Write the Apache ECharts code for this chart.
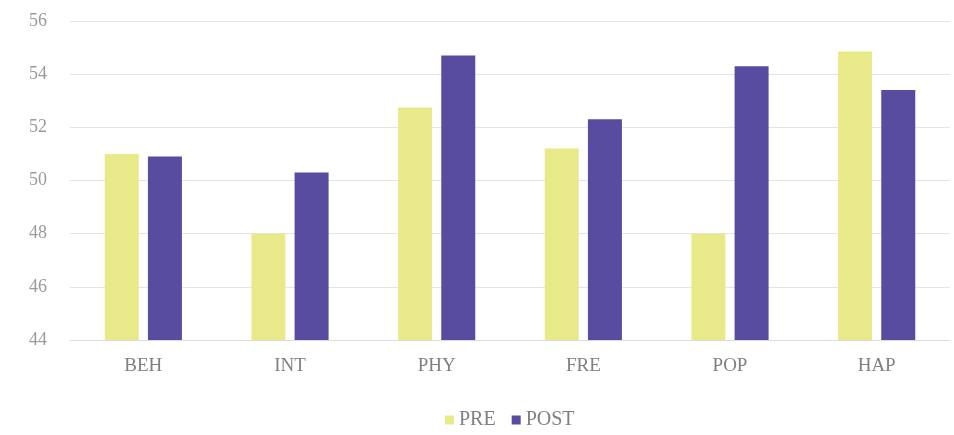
<!DOCTYPE html>
<html><head><meta charset="utf-8">
<script src="https://cdn.jsdelivr.net/npm/echarts@6/dist/echarts.min.js"></script>
<style>html,body{margin:0;padding:0;background:#fff}#c{width:954px;height:435px}</style>
</head><body><div id="c"></div>
<script>
const categories = ['BEH','INT','PHY','FRE','POP','HAP'];
const preValues = [51.0, 48.0, 52.75, 51.2, 48.0, 54.85];
const postValues = [50.9, 50.3, 54.7, 52.3, 54.3, 53.4];
const seriesNames = ['PRE','POST'];

const chart = echarts.init(document.getElementById('c'));
const font = 'Liberation Serif';
chart.setOption({
  animation: false,
  backgroundColor: '#ffffff',
  grid: {left: 70, right: 4, top: 21, bottom: 95},
  legend: {
    top: 405, left: 440, itemWidth: 9, itemHeight: 9, itemGap: 16,
    icon: 'rect',
    textStyle: {fontFamily: font, fontSize: 20, color: '#808080'},
    data: seriesNames
  },
  xAxis: {
    type: 'category', data: categories,
    axisLine: {show: true, lineStyle: {color: '#dddddd'}},
    axisTick: {show: false},
    axisLabel: {fontFamily: font, fontSize: 19, color: '#808080', margin: 17}
  },
  yAxis: {
    type: 'value', min: 44, max: 56, interval: 2,
    axisLine: {show: false}, axisTick: {show: false},
    splitLine: {lineStyle: {color: '#e4e4e4'}},
    axisLabel: {fontFamily: font, fontSize: 18, color: '#9a9a9a', margin: 23}
  },
  series: [
    {name: seriesNames[0], type: 'bar', data: preValues, barWidth: 34, barGap: '27%',
     itemStyle: {color: '#e8ea8a'}},
    {name: seriesNames[1], type: 'bar', data: postValues, barWidth: 34,
     itemStyle: {color: '#574ca0'}}
  ]
});
</script></body></html>
